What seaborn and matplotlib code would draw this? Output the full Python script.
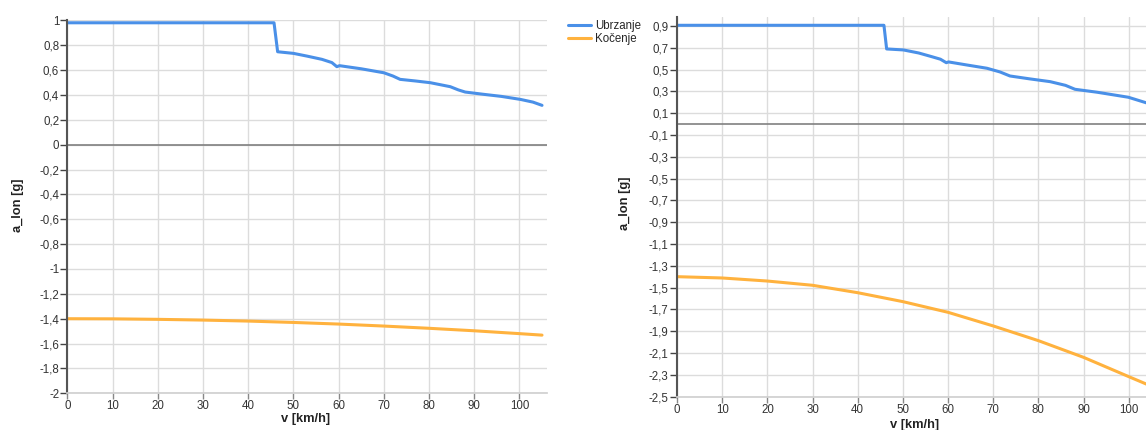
import numpy as np
import pandas as pd
import matplotlib
matplotlib.use("Agg")
import matplotlib.pyplot as plt
import seaborn as sns
from matplotlib.ticker import FuncFormatter
from matplotlib.lines import Line2D

# ---- data ----
series_names = ["Ubrzanje", "Kočenje"]

# left chart
left_acc_v = [0, 45.7, 46.5, 50, 53, 56.3, 58.5, 59.6, 60.2, 65, 70, 72, 73.6, 77, 80.3, 84.7, 86.5, 88, 92, 96, 100.2, 103, 105]
left_acc_a = [0.98, 0.98, 0.747, 0.734, 0.712, 0.686, 0.66, 0.627, 0.635, 0.61, 0.578, 0.552, 0.525, 0.512, 0.498, 0.466, 0.44, 0.423, 0.405, 0.388, 0.364, 0.342, 0.316]
left_brk_v = [0, 10, 20, 30, 40, 50, 60, 70, 80, 90, 100, 105]
left_brk_a = [-1.40, -1.401, -1.405, -1.411, -1.419, -1.43, -1.443, -1.459, -1.477, -1.497, -1.52, -1.532]

# right chart
right_acc_v = [0, 45.8, 46.4, 50.1, 53.5, 56.4, 58.3, 59.6, 60.1, 64, 68.6, 71.5, 73.7, 78, 82.6, 86, 88.1, 93, 99.9, 103.8, 105]
right_acc_a = [0.906, 0.906, 0.689, 0.68, 0.652, 0.618, 0.595, 0.563, 0.57, 0.543, 0.512, 0.478, 0.441, 0.415, 0.389, 0.355, 0.319, 0.292, 0.246, 0.196, 0.18]
right_brk_v = [0, 10, 20, 30, 40, 50, 60, 70, 80, 90, 100, 104, 105]
right_brk_a = [-1.40, -1.412, -1.44, -1.479, -1.547, -1.629, -1.727, -1.852, -1.987, -2.14, -2.317, -2.387, -2.41]

colors = {"Ubrzanje": "#4a90e8", "Kočenje": "#ffb23e"}

def make_df(av, aa, bv, ba):
    d1 = pd.DataFrame({"v": av, "a": aa, "serija": series_names[0]})
    d2 = pd.DataFrame({"v": bv, "a": ba, "serija": series_names[1]})
    return pd.concat([d1, d2], ignore_index=True)

df_left = make_df(left_acc_v, left_acc_a, left_brk_v, left_brk_a)
df_right = make_df(right_acc_v, right_acc_a, right_brk_v, right_brk_a)

sns.set_theme(style="white")
plt.rcParams["font.family"] = ["Liberation Sans", "DejaVu Sans"]

fig = plt.figure(figsize=(11.46, 4.30), dpi=100)
ax1 = fig.add_axes([0.0589, 0.0853, 0.418, 0.8675])
ax2 = fig.add_axes([0.5908, 0.0777, 0.4178, 0.8835])

def fmt(x, pos):
    x = round(x, 4)
    if abs(x) < 1e-9:
        x = 0.0
    s = f"{x:g}"
    return s.replace(".", ",")

def style_axis(ax, ylo, yhi, yticks):
    ax.set_xlim(0, 106)
    ax.set_ylim(ylo, yhi)
    ax.set_xticks(np.arange(0, 101, 10))
    ax.set_yticks(yticks)
    ax.yaxis.set_major_formatter(FuncFormatter(fmt))
    ax.grid(True, color="#dcdcdc", linewidth=1.0)
    ax.set_axisbelow(True)
    for s in ["top", "right"]:
        ax.spines[s].set_visible(False)
    ax.spines["bottom"].set_color("#d0d0d0")
    ax.spines["left"].set_color("#555555")
    ax.spines["left"].set_linewidth(1.5)
    ax.tick_params(axis="y", direction="out", length=5, width=1, color="#444444",
                   labelsize=8.3, labelcolor="#333333", pad=1, left=True)
    ax.tick_params(axis="x", direction="out", length=4, width=1, color="#888888",
                   labelsize=8.3, labelcolor="#333333", pad=1, bottom=True)
    ax.axhline(0, color="#808080", linewidth=1.2, zorder=1.5)
    ax.set_xlabel("")
    ax.set_ylabel("")

for ax, df in [(ax1, df_left), (ax2, df_right)]:
    sns.lineplot(data=df, x="v", y="a", hue="serija", palette=colors,
                 linewidth=2.2, ax=ax, legend=False, sort=False, estimator=None)

style_axis(ax1, -2.0, 1.0, np.round(np.arange(-2.0, 1.0001, 0.2), 2))
style_axis(ax2, -2.5, 0.985, np.round(np.arange(-2.5, 0.9001, 0.2), 2))

# axis titles
lab_kw = dict(fontsize=9.3, fontweight="bold", color="#222222")
fig.text(18.3 / 1146, 1 - 205 / 430, "a_lon [g]", rotation=90, ha="center", va="center", **lab_kw)
fig.text(625 / 1146, 1 - 203 / 430, "a_lon [g]", rotation=90, ha="center", va="center", **lab_kw)
fig.text(306 / 1146, 1 - 419 / 430, "v [km/h]", ha="center", va="center", **lab_kw)
fig.text(915 / 1146, 1 - 425 / 430, "v [km/h]", ha="center", va="center", **lab_kw)

# legend
handles = [Line2D([0], [0], color=colors[n], linewidth=2.2) for n in series_names]
fig.legend(handles, series_names, loc="upper left", bbox_to_anchor=(563 / 1146, 1 - 15 / 430),
           frameon=False, fontsize=8.3, handlelength=2.0, handletextpad=0.4,
           labelspacing=0.15, borderaxespad=0)

fig.savefig("out.png", dpi=100)
